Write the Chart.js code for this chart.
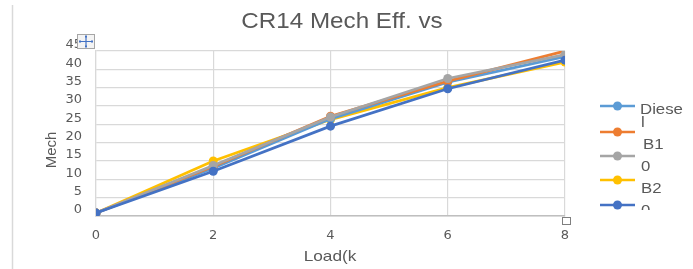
<!DOCTYPE html>
<html>
<head>
<meta charset="utf-8">
<script src="https://cdn.jsdelivr.net/npm/chart.js@4/dist/chart.umd.min.js"></script>
<style>
html,body{margin:0;padding:0;background:#fff;}
canvas{display:block;}
</style>
</head>
<body>
<canvas id="c" width="693" height="269"></canvas>
<script>
// ---- data ----
const loads = [0, 2, 4, 6, 8];
const seriesNames = ["Diesel", "B10", "B20", "B30", "B40"];
const diesel = [0.8, 13.0, 26.5, 36.5, 43.5];
const b10    = [0.8, 13.5, 27.2, 36.8, 45.0];
const b20    = [0.8, 13.8, 27.0, 37.5, 44.0];
const b30    = [0.8, 15.0, 26.3, 35.0, 42.0];
const b40    = [0.8, 12.2, 24.5, 34.7, 42.5];
const seriesColors = ["#5B9BD5", "#ED7D31", "#A5A5A5", "#FFC000", "#4472C4"];
const titleText = "CR14 Mech Eff. vs";
const xTitle = "Load(k";
const yTitle = "Mech";
const legendLines = ["Diese", "l", "B1", "0", "B2", "0"];
const xTicks = { min: 0, max: 8, step: 2 };
const yTicks = { min: 0, max: 45, step: 5 };

const allSeries = [diesel, b10, b20, b30, b40];
const FONT = "'Liberation Sans', Arial, sans-serif";
const TICKFONT = "'DejaVu Sans', sans-serif";
const GREY = "#595959";

const datasets = allSeries.map((vals, i) => ({
  label: seriesNames[i],
  data: vals.map((v, j) => ({ x: loads[j], y: v })),
  borderColor: seriesColors[i],
  backgroundColor: seriesColors[i],
  borderWidth: 2.75,
  pointRadius: 4.5,
  pointBorderWidth: 0,
  pointBackgroundColor: seriesColors[i],
  tension: 0,
  order: [3, 2, 1, 4, 0][i]
}));

const deco = {
  id: 'deco',
  beforeDraw(chart) {
    const ctx = chart.ctx;
    ctx.save();
    ctx.fillStyle = '#fff';
    ctx.fillRect(0, 0, chart.width, chart.height);
    ctx.restore();
  },
  afterDraw(chart) {
    const ctx = chart.ctx;
    ctx.save();
    // left border of frame
    ctx.strokeStyle = '#d9d9d9';
    ctx.lineWidth = 1.5;
    ctx.beginPath(); ctx.moveTo(12.5, 5); ctx.lineTo(12.5, 269); ctx.stroke();

    // title
    ctx.fillStyle = GREY;
    ctx.font = "22px " + FONT;
    ctx.textAlign = 'center';
    ctx.textBaseline = 'middle';
    ctx.save(); ctx.translate(342, 22); ctx.scale(1.1, 1); ctx.fillText(titleText, 0, 0); ctx.restore();

    // axis titles
    ctx.font = "15px " + FONT;
    ctx.save(); ctx.translate(330, 257); ctx.scale(1.15, 1); ctx.fillText(xTitle, 0, 0); ctx.restore();
    ctx.save(); ctx.translate(52, 150); ctx.rotate(-Math.PI / 2); ctx.fillText(yTitle, 0, 0); ctx.restore();

    // legend
    const ly = [106, 132, 156, 180, 205];
    seriesColors.forEach((c, i) => {
      ctx.strokeStyle = c; ctx.lineWidth = 2.5;
      ctx.beginPath(); ctx.moveTo(600, ly[i]); ctx.lineTo(635, ly[i]); ctx.stroke();
      ctx.fillStyle = c;
      ctx.beginPath(); ctx.arc(617.5, ly[i], 4.5, 0, Math.PI * 2); ctx.fill();
    });
    ctx.fillStyle = GREY;
    ctx.font = "14px " + FONT;
    ctx.textAlign = 'left';
    ctx.textBaseline = 'middle';
    const tpos = [[640, 110], [641, 123], [643, 145], [641, 167], [641, 189], [641, 211]];
    legendLines.forEach((t, i) => {
      ctx.save();
      if (i === legendLines.length - 1) {
        ctx.beginPath(); ctx.rect(630, 195, 60, 15); ctx.clip();
      }
      ctx.translate(tpos[i][0], tpos[i][1]); ctx.scale(1.2, 1);
      ctx.fillText(t, 0, 0);
      ctx.restore();
    });

    // move icon
    ctx.fillStyle = '#f4f4f4'; ctx.strokeStyle = '#a6a6a6'; ctx.lineWidth = 1;
    ctx.fillRect(77.5, 34.5, 17, 14); ctx.strokeRect(77.5, 34.5, 17, 14);
    ctx.strokeStyle = '#4472C4'; ctx.lineWidth = 1.2;
    ctx.beginPath();
    ctx.moveTo(80, 41.5); ctx.lineTo(92, 41.5);
    ctx.moveTo(86, 36.5); ctx.lineTo(86, 46.5);
    ctx.stroke();
    ctx.fillStyle = '#4472C4';
    [[80,41.5],[92,41.5],[86,36.5],[86,46.5]].forEach(p => { ctx.fillRect(p[0]-1, p[1]-1, 2, 2); });

    // small resize handle
    ctx.fillStyle = '#fff'; ctx.strokeStyle = '#7f7f7f'; ctx.lineWidth = 1;
    ctx.fillRect(562.5, 217.5, 8, 7); ctx.strokeRect(562.5, 217.5, 8, 7);
    ctx.restore();
  }
};

new Chart(document.getElementById('c'), {
  type: 'line',
  data: { datasets },
  options: {
    responsive: false,
    animation: false,
    events: [],
    layout: { padding: { left: 0, right: 128, top: 51, bottom: 0 } },
    plugins: { legend: { display: false }, title: { display: false }, tooltip: { enabled: false } },
    scales: {
      x: {
        type: 'linear',
        min: xTicks.min, max: xTicks.max,
        ticks: { stepSize: xTicks.step, autoSkip: false, color: GREY, font: { size: 13, family: TICKFONT }, padding: 12 },
        grid: { color: '#d9d9d9', lineWidth: 1.2, drawTicks: false },
        border: { color: '#bfbfbf', width: 1.5 },
        afterFit: s => { s.height = 53; }
      },
      y: {
        min: yTicks.min, max: yTicks.max,
        ticks: { stepSize: yTicks.step, autoSkip: false, color: GREY, font: { size: 13, family: TICKFONT }, padding: 14, labelOffset: -6 },
        grid: { color: '#d9d9d9', lineWidth: 1.2, drawTicks: false },
        border: { color: '#d9d9d9', width: 1.2 },
        afterFit: s => { s.width = 96; }
      }
    }
  },
  plugins: [deco]
});
</script>
</body>
</html>
